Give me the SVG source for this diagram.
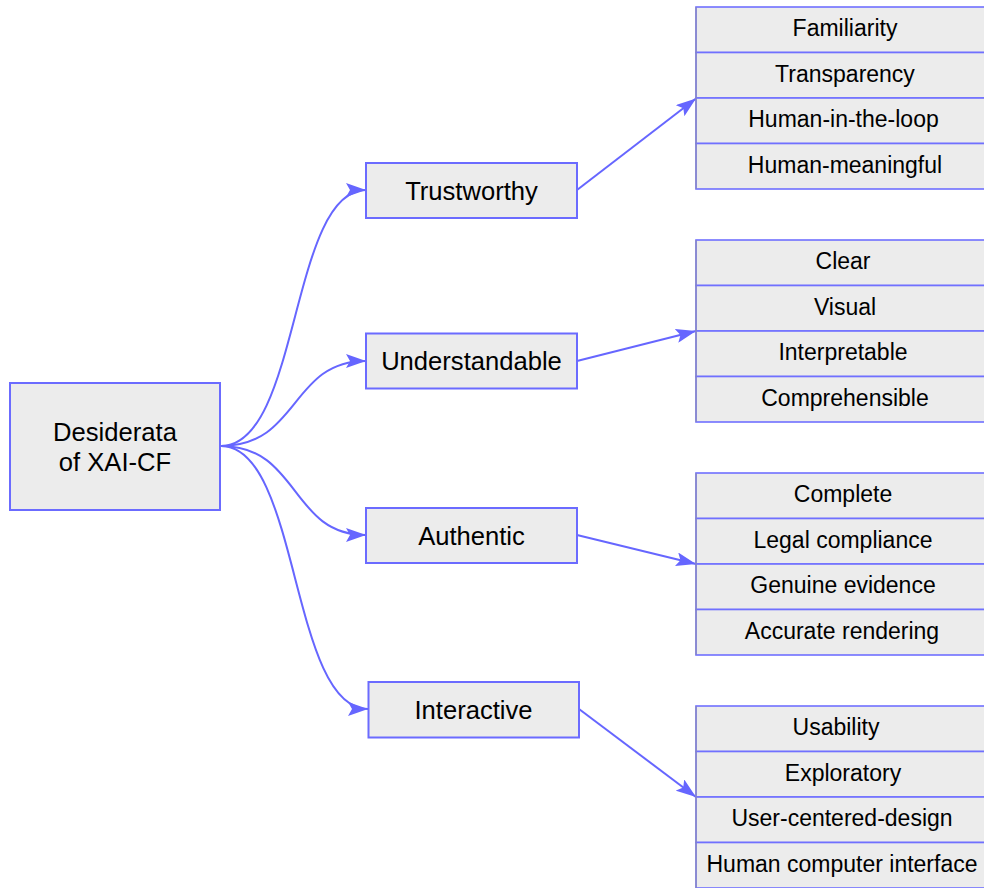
<svg xmlns="http://www.w3.org/2000/svg" width="984" height="888" viewBox="0 0 984 888">
<style>
.box{fill:#ececec;stroke:#6b6bff;stroke-width:2}
.cell{fill:#ececec;stroke:#7070ff;stroke-width:1.6}
.edge{stroke:#8c8cb8;stroke-width:1.2}
.t1{font-family:"Liberation Sans",Arial,sans-serif;font-size:25.6px;fill:#000;text-anchor:middle}
.t2{font-family:"Liberation Sans",Arial,sans-serif;font-size:23px;fill:#000;text-anchor:middle}
.link{fill:none;stroke:#6666ff;stroke-width:2;marker-end:url(#arr)}
</style>
<defs>
<marker id="arr" viewBox="0 0 20 14" refX="20" refY="7" markerWidth="20" markerHeight="14" markerUnits="userSpaceOnUse" orient="auto">
<path d="M0,0 L20,7 L0,14 L4,7 z" fill="#6666ff"/>
</marker>
</defs>
<rect width="984" height="888" fill="#fff"/>
<g id="connectors">
<path class="link" d="M221,446 C300,446 290,190 366,190"/>
<path class="link" d="M221,446 C300,446 290,361 366,361"/>
<path class="link" d="M221,446 C300,446 290,535 366,535"/>
<path class="link" d="M221,446 C300,446 290,709 368,709"/>
<path class="link" d="M577,190 L696,98.5"/>
<path class="link" d="M577,361 L696,331"/>
<path class="link" d="M577,535 L696,564"/>
<path class="link" d="M579,709 L696,797"/>
</g>
<g id="root">
<rect class="box" x="10" y="383" width="210" height="127"/>
<text class="t1" x="115" y="440.5">Desiderata</text>
<text class="t1" x="115" y="470.5">of XAI-CF</text>
</g>
<g id="trustworthy">
<rect class="box" x="366" y="163" width="211" height="55"/>
<text class="t1" x="471.5" y="199.5">Trustworthy</text>
</g>
<g id="understandable">
<rect class="box" x="366" y="333.5" width="211" height="55"/>
<text class="t1" x="471.5" y="370">Understandable</text>
</g>
<g id="authentic">
<rect class="box" x="366" y="508" width="211" height="55"/>
<text class="t1" x="471.5" y="544.5">Authentic</text>
</g>
<g id="interactive">
<rect class="box" x="368.5" y="682" width="210.5" height="55.5"/>
<text class="t1" x="473.5" y="718.5">Interactive</text>
</g>
<g id="trust-list">
<rect class="cell" x="696" y="7" width="300" height="45.5"/>
<rect class="cell" x="696" y="52.5" width="300" height="45.5"/>
<rect class="cell" x="696" y="98" width="300" height="45.5"/>
<rect class="cell" x="696" y="143.5" width="300" height="45.5"/>
<line class="edge" x1="696" y1="7" x2="696" y2="189"/>
<text class="t2" x="845" y="36">Familiarity</text>
<text class="t2" x="845" y="81.5">Transparency</text>
<text class="t2" x="843.5" y="127">Human-in-the-loop</text>
<text class="t2" x="845" y="172.5">Human-meaningful</text>
</g>
<g id="understand-list">
<rect class="cell" x="696" y="240" width="300" height="45.5"/>
<rect class="cell" x="696" y="285.5" width="300" height="45.5"/>
<rect class="cell" x="696" y="331" width="300" height="45.5"/>
<rect class="cell" x="696" y="376.5" width="300" height="45.5"/>
<line class="edge" x1="696" y1="240" x2="696" y2="422"/>
<text class="t2" x="843" y="269">Clear</text>
<text class="t2" x="845" y="314.5">Visual</text>
<text class="t2" x="843" y="360">Interpretable</text>
<text class="t2" x="845" y="405.5">Comprehensible</text>
</g>
<g id="authentic-list">
<rect class="cell" x="696" y="473" width="300" height="45.5"/>
<rect class="cell" x="696" y="518.5" width="300" height="45.5"/>
<rect class="cell" x="696" y="564" width="300" height="45.5"/>
<rect class="cell" x="696" y="609.5" width="300" height="45.5"/>
<line class="edge" x1="696" y1="473" x2="696" y2="655"/>
<text class="t2" x="843" y="502">Complete</text>
<text class="t2" x="843" y="547.5">Legal compliance</text>
<text class="t2" x="843" y="593">Genuine evidence</text>
<text class="t2" x="842" y="638.5">Accurate rendering</text>
</g>
<g id="interactive-list">
<rect class="cell" x="696" y="706" width="300" height="45.5"/>
<rect class="cell" x="696" y="751.5" width="300" height="45.5"/>
<rect class="cell" x="696" y="797" width="300" height="45.5"/>
<rect class="cell" x="696" y="842.5" width="300" height="45.5"/>
<line class="edge" x1="696" y1="706" x2="696" y2="888"/>
<text class="t2" x="836" y="735">Usability</text>
<text class="t2" x="843" y="780.5">Exploratory</text>
<text class="t2" x="842" y="826">User-centered-design</text>
<text class="t2" x="842" y="871.5">Human computer interface</text>
</g>
</svg>
